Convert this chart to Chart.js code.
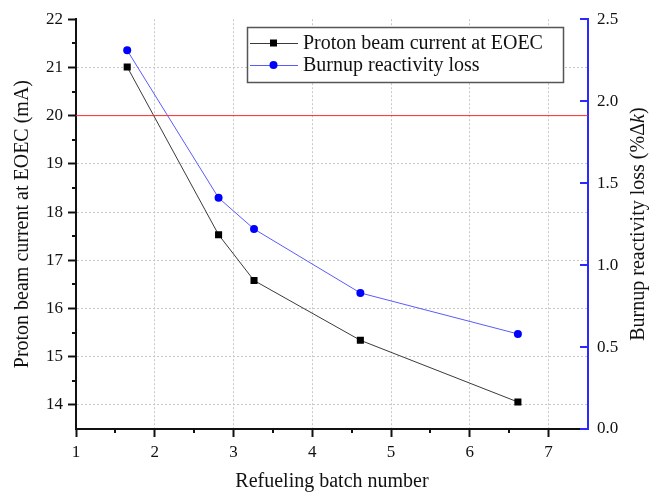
<!DOCTYPE html>
<html lang="en">
<head>
  <meta charset="UTF-8" />
  <title>Proton beam current and burnup reactivity loss</title>
  <script src="https://cdn.jsdelivr.net/npm/chart.js"></script>
  <style>
    body {
      margin: 0;
      background: #ffffff;
    }
    #chartBox {
      width: 662px;
      height: 496px;
    }
  </style>
</head>
<body>
  <div id="chartBox">
    <canvas id="batchChart" width="662" height="496"></canvas>
  </div>

  <script>
    // values
    const batchNumbers = [1.65, 2.81, 3.26, 4.61, 6.61];
    const beamCurrent = [21.01, 17.53, 16.58, 15.34, 14.06];
    const reactivityLoss = [2.31, 1.41, 1.22, 0.83, 0.58];
    const beamLimit = 20;

    const xTicks = [1, 2, 3, 4, 5, 6, 7];
    const leftTicks = [14, 15, 16, 17, 18, 19, 20, 21, 22];
    const rightTicks = [0, 0.5, 1.0, 1.5, 2.0, 2.5];

    const serif = "'Liberation Serif', 'DejaVu Serif', serif";
    const axisBlue = '#2a2aff';

    Chart.defaults.font.family = serif;
    Chart.defaults.color = '#111';

    const toPoints = (xs, ys) => xs.map((x, i) => ({ x: x, y: ys[i] }));

    // minor ticks (outward) on the left and bottom axes, inward ticks on the right axis
    const axisDecor = {
      id: 'axisDecor',
      afterDraw(chart) {
        const ctx = chart.ctx;
        const area = chart.chartArea;
        const sx = chart.scales.x;
        const sy = chart.scales.y;
        const sy1 = chart.scales.y1;
        ctx.save();
        ctx.lineWidth = 2;
        ctx.strokeStyle = '#111';
        ctx.beginPath();
        for (let i = 0; i < leftTicks.length - 1; i++) {
          const py = Math.round(sy.getPixelForValue((leftTicks[i] + leftTicks[i + 1]) / 2));
          ctx.moveTo(area.left, py);
          ctx.lineTo(area.left - 4, py);
        }
        for (let i = 0; i < xTicks.length - 1; i++) {
          const px = Math.round(sx.getPixelForValue((xTicks[i] + xTicks[i + 1]) / 2));
          ctx.moveTo(px, area.bottom);
          ctx.lineTo(px, area.bottom + 4);
        }
        ctx.stroke();

        ctx.strokeStyle = axisBlue;
        ctx.beginPath();
        rightTicks.forEach(v => {
          const py = Math.round(sy1.getPixelForValue(v));
          ctx.moveTo(area.right, py);
          ctx.lineTo(area.right - 8, py);
        });
        ctx.stroke();

        // right axis title, read bottom to top, italic k
        const parts = [
          { t: 'Burnup reactivity loss (%\u0394', f: '20px ' + serif },
          { t: 'k', f: 'italic 20px ' + serif },
          { t: ')', f: '20px ' + serif }
        ];
        let total = 0;
        parts.forEach(p => { ctx.font = p.f; p.w = ctx.measureText(p.t).width; total += p.w; });
        ctx.translate(639, (area.top + area.bottom) / 2);
        ctx.rotate(-Math.PI / 2);
        ctx.fillStyle = '#111';
        ctx.textBaseline = 'middle';
        ctx.textAlign = 'left';
        let cx = -total / 2;
        parts.forEach(p => { ctx.font = p.f; ctx.fillText(p.t, cx, 0); cx += p.w; });
        ctx.restore();
      }
    };

    // legend box inside the plot, line + marker samples
    const boxLegend = {
      id: 'boxLegend',
      afterDatasetsDraw(chart) {
        const ctx = chart.ctx;
        const entries = chart.data.datasets.filter(d => d.inLegend);
        const left = 247, top = 27, width = 316, height = 55;
        ctx.save();
        ctx.fillStyle = '#ffffff';
        ctx.fillRect(left, top, width, height);
        ctx.strokeStyle = '#555';
        ctx.lineWidth = 1.5;
        ctx.strokeRect(left + 0.5, top + 0.5, width, height);
        entries.forEach((d, i) => {
          const cy = 43 + i * 22;
          ctx.strokeStyle = d.borderColor;
          ctx.lineWidth = 1;
          ctx.beginPath();
          ctx.moveTo(250, cy + 0.5);
          ctx.lineTo(298, cy + 0.5);
          ctx.stroke();
          ctx.fillStyle = d.pointBackgroundColor;
          if (d.pointStyle === 'rect') {
            ctx.fillRect(270, cy - 3.5, 7, 7);
          } else {
            ctx.beginPath();
            ctx.arc(273.5, cy, 4, 0, Math.PI * 2);
            ctx.fill();
          }
          ctx.fillStyle = '#111';
          ctx.font = '20px ' + serif;
          ctx.textBaseline = 'middle';
          ctx.fillText(d.label, 303, cy + 1);
        });
        ctx.restore();
      }
    };

    const hiddenLeftGrid = [20, 22];

    new Chart(document.getElementById('batchChart'), {
      type: 'line',
      data: {
        datasets: [
          {
            label: 'Limit',
            data: [{ x: 1, y: beamLimit }, { x: 7.5, y: beamLimit }],
            yAxisID: 'y',
            borderColor: '#ff2a2a',
            borderWidth: 1,
            pointRadius: 0,
            inLegend: false
          },
          {
            label: 'Proton beam current at EOEC',
            data: toPoints(batchNumbers, beamCurrent),
            yAxisID: 'y',
            borderColor: '#3a3a3a',
            borderWidth: 1,
            pointStyle: 'rect',
            pointRadius: 5,
            pointBackgroundColor: '#000000',
            pointBorderWidth: 0,
            inLegend: true
          },
          {
            label: 'Burnup reactivity loss',
            data: toPoints(batchNumbers, reactivityLoss),
            yAxisID: 'y1',
            borderColor: '#5a5aff',
            borderWidth: 1,
            pointStyle: 'circle',
            pointRadius: 4,
            pointBackgroundColor: '#0000ff',
            pointBorderWidth: 0,
            inLegend: true
          }
        ]
      },
      options: {
        responsive: false,
        animation: false,
        layout: { padding: { top: 17, right: 0, bottom: 0, left: 0 } },
        plugins: {
          legend: { display: false },
          tooltip: { enabled: false }
        },
        scales: {
          x: {
            type: 'linear',
            min: 1,
            max: 7.5,
            afterBuildTicks: s => { s.ticks = xTicks.map(v => ({ value: v })); },
            afterFit: s => { s.height = 67; },
            grid: {
              color: c => (c.tick && c.tick.value === 1 ? 'transparent' : '#c8c8c8'),
              lineWidth: 1,
              tickLength: 8,
              tickColor: '#111',
              tickWidth: 2,
              tickBorderDash: []
            },
            border: { display: true, color: '#111', width: 2, dash: [2, 2] },
            ticks: {
              color: '#111',
              padding: 5,
              font: { family: serif, size: 17 },
              callback: v => String(v)
            },
            title: {
              display: true,
              text: 'Refueling batch number',
              color: '#111',
              font: { family: serif, size: 20 },
              padding: { top: 0, bottom: 2 }
            }
          },
          y: {
            position: 'left',
            min: 13.5,
            max: 22,
            afterBuildTicks: s => { s.ticks = leftTicks.map(v => ({ value: v })); },
            afterFit: s => { s.width = 76; },
            grid: {
              color: c => (c.tick && hiddenLeftGrid.includes(c.tick.value) ? 'transparent' : '#c8c8c8'),
              lineWidth: 1,
              tickLength: 8,
              tickColor: '#111',
              tickWidth: 2,
              tickBorderDash: []
            },
            border: { display: true, color: '#111', width: 2, dash: [2, 2] },
            ticks: {
              color: '#111',
              padding: 5,
              font: { family: serif, size: 17 },
              callback: v => String(v)
            },
            title: {
              display: true,
              text: 'Proton beam current at EOEC (mA)',
              color: '#111',
              font: { family: serif, size: 20 },
              padding: { top: 11, bottom: 0 }
            }
          },
          y1: {
            position: 'right',
            min: 0,
            max: 2.5,
            afterBuildTicks: s => { s.ticks = rightTicks.map(v => ({ value: v })); },
            afterFit: s => { s.width = 74; },
            grid: {
              drawOnChartArea: false,
              drawTicks: false
            },
            border: { display: true, color: axisBlue, width: 2 },
            ticks: {
              color: '#111',
              padding: 9,
              font: { family: serif, size: 17 },
              callback: v => Number(v).toFixed(1)
            }
          }
        }
      },
      plugins: [axisDecor, boxLegend]
    });
  </script>
</body>
</html>
